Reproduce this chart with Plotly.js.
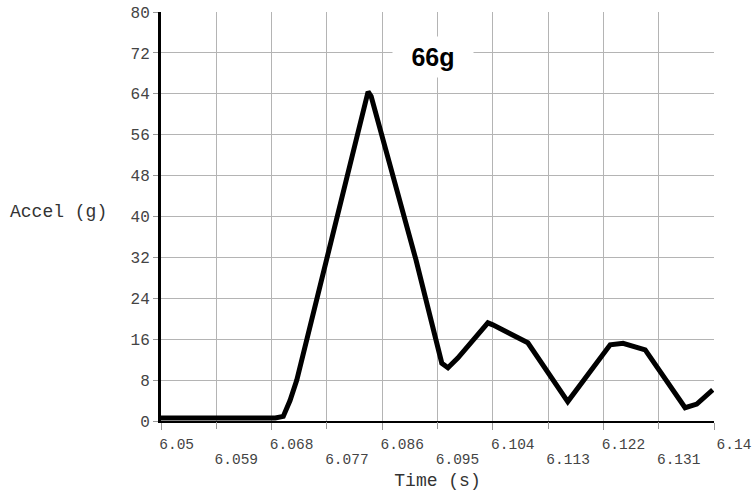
<!DOCTYPE html>
<html>
<head>
<meta charset="utf-8">
<script src="https://cdn.plot.ly/plotly-3.0.1.min.js"></script>
<style>html,body{margin:0;padding:0;background:#fff;}#chart{width:752px;height:492px;}</style>
</head>
<body>
<div id="chart"></div>
<script>
// Time (s) and acceleration (g)
const timeS = [6.0500, 6.0686, 6.0699, 6.0710, 6.0721, 6.0834, 6.0837, 6.0842, 6.0915, 6.0957, 6.0967, 6.0983, 6.1014, 6.1032, 6.1040, 6.1081, 6.1097, 6.1162, 6.1215, 6.1231, 6.1252, 6.1288, 6.1353, 6.1372, 6.1398];
const accelG = [0.6, 0.6, 0.9, 4.0, 8.0, 63.5, 64.4, 63.5, 31.5, 11.3, 10.4, 12.3, 16.5, 19.2, 18.8, 16.4, 15.3, 3.8, 12.6, 14.9, 15.2, 13.9, 2.6, 3.3, 6.1];

const xTicksUpper = [6.05, 6.068, 6.086, 6.104, 6.122, 6.14];
const xLabelsUpper = ["6.05\u00a0", "6.068", "6.086", "6.104", "6.122", "6.14"];
const xTicksLower = [6.059, 6.077, 6.095, 6.113, 6.131];
const xLabelsLower = ["6.059", "6.077", "6.095", "6.113", "6.131"];
const yTicks = [0, 8, 16, 24, 32, 40, 48, 56, 64, 72, 80];

const titleText = "66g";
const xTitle = "Time (s)";
const yTitle = "Accel (g)";

const mono = "Liberation Mono, Courier New, monospace";
const tickFont = {family: mono, size: 14.5, color: "#444"};

const trace = {
  x: timeS, y: accelG, type: "scatter", mode: "lines",
  line: {color: "#000", width: 5},
  xaxis: "x", yaxis: "y", hoverinfo: "skip"
};
// invisible companion so the second (lower-row) x axis is drawn
const helper = {
  x: timeS, y: accelG, type: "scatter", mode: "lines",
  line: {color: "rgba(0,0,0,0)", width: 0}, opacity: 0,
  xaxis: "x2", yaxis: "y", hoverinfo: "skip"
};

const layout = {
  width: 752, height: 492,
  margin: {l: 161, r: 38, t: 12, b: 71},
  paper_bgcolor: "#fff", plot_bgcolor: "#fff",
  showlegend: false,
  xaxis: {
    range: [6.05, 6.14], tickmode: "array", tickvals: xTicksUpper, ticktext: xLabelsUpper,
    ticks: "outside", ticklen: 7, tickcolor: "#999", tickwidth: 1,
    ticklabelshift: 20, ticklabelstandoff: 2, ticklabeloverflow: "allow",
    tickfont: tickFont,
    showgrid: true, gridcolor: "#b4b4b4", gridwidth: 1,
    showline: true, linecolor: "#000", linewidth: 2,
    zeroline: false,
    title: {text: xTitle, font: {family: mono, size: 18, color: "#333"}, standoff: 21}
  },
  xaxis2: {
    overlaying: "x", anchor: "y", side: "bottom",
    range: [6.05, 6.14], tickmode: "array", tickvals: xTicksLower, ticktext: xLabelsLower,
    ticks: "outside", ticklen: 7, tickcolor: "#999", tickwidth: 1,
    ticklabelshift: 20, ticklabelstandoff: 18, ticklabeloverflow: "allow",
    tickfont: tickFont,
    showgrid: true, gridcolor: "#b4b4b4", gridwidth: 1,
    showline: false, zeroline: false
  },
  yaxis: {
    range: [0, 80], tickmode: "array", tickvals: yTicks,
    ticks: "outside", ticklen: 5, tickcolor: "#999", tickwidth: 1,
    tickfont: {family: mono, size: 16, color: "#444"},
    showgrid: true, gridcolor: "#b4b4b4", gridwidth: 1,
    showline: true, linecolor: "#000", linewidth: 3,
    zeroline: false
  },
  annotations: [
    {text: titleText, xref: "paper", yref: "paper", x: 0.492, y: 0.89,
     xanchor: "center", yanchor: "middle", showarrow: false,
     font: {family: "Liberation Sans, Arial, sans-serif", size: 25, color: "#000", weight: "bold"},
     bgcolor: "#fff", width: 78, height: 38},
    {text: yTitle, xref: "paper", yref: "paper", x: -0.2767, y: 0.511,
     xanchor: "left", yanchor: "middle", showarrow: false,
     font: {family: mono, size: 18, color: "#333"}}
  ]
};

Plotly.newPlot("chart", [helper, trace], layout, {staticPlot: true, displayModeBar: false});
</script>
</body>
</html>
